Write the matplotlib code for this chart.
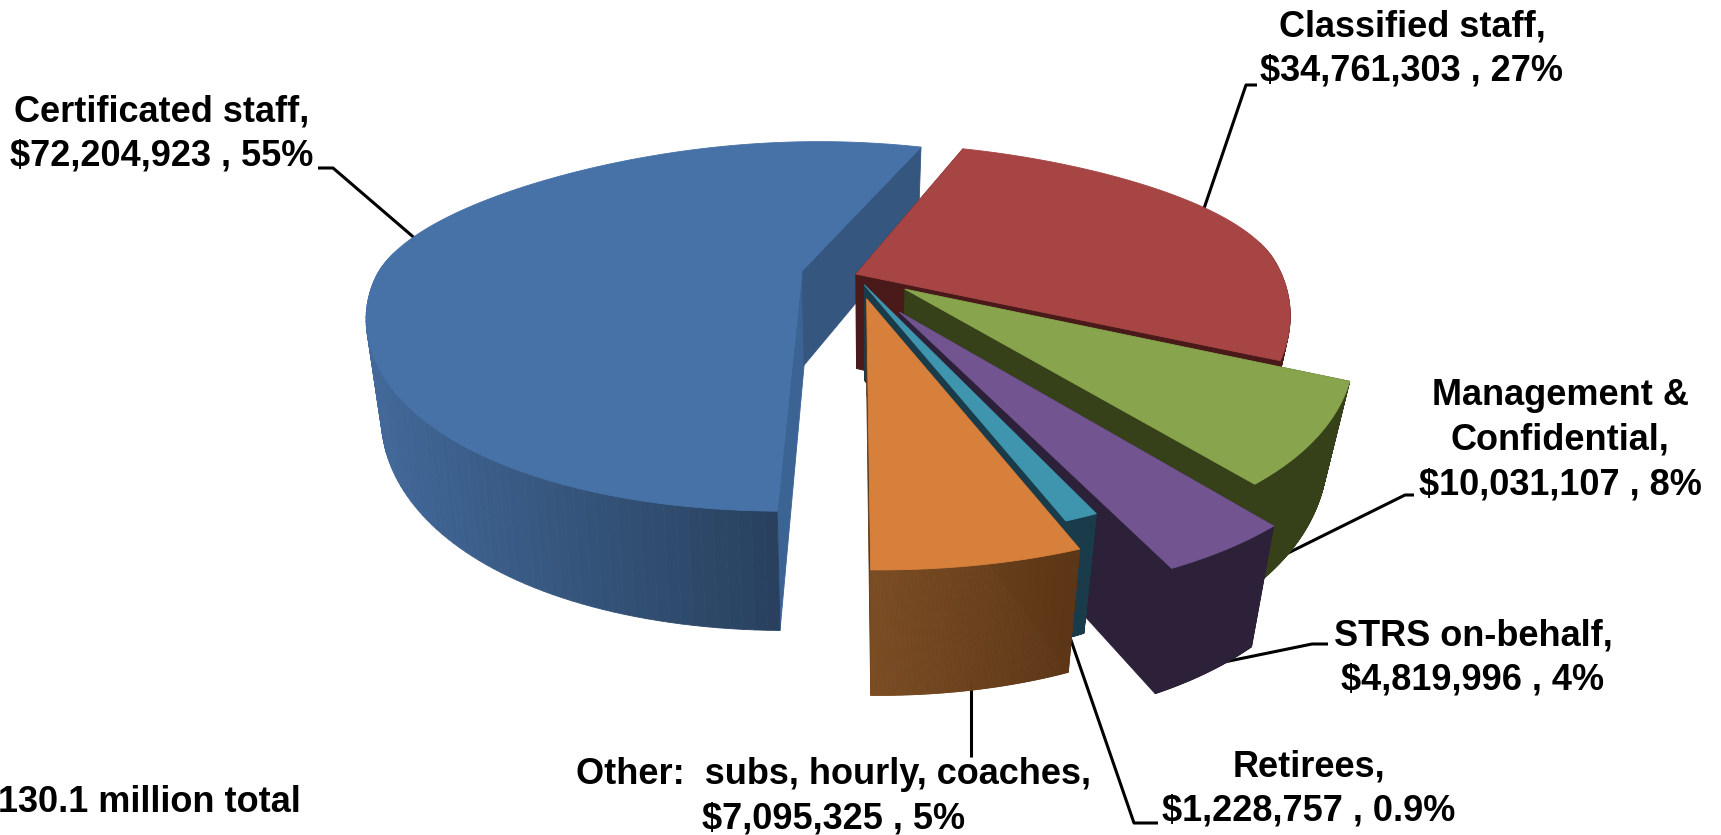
import numpy as np
import matplotlib
matplotlib.use('Agg')
import matplotlib.pyplot as plt
from matplotlib.colors import to_rgb

plt.rcParams['font.family'] = ['Liberation Sans', 'DejaVu Sans']

names = ['Certificated staff', 'Classified staff', 'Management &\nConfidential', 'STRS on-behalf',
         'Retirees', 'Other:  subs, hourly, coaches']
values = [72204923, 34761303, 10031107, 4819996, 1228757, 7095325]
percents = ['55%', '27%', '8%', '4%', '0.9%', '5%']
total_note = '130.1 million total'

top_colors = ['#4672A8', '#A64543', '#88A44D', '#725490', '#4095AE', '#D7803C']
side_left = ['#42699A', '#4A1A1A', '#374119', '#2C2138', '#1A3C4A', '#7A4C22']
side_right = ['#29415F', '#4A1A1A', '#374119', '#2C2138', '#1A3C4A', '#5C3616']
face_start = ['#3B6394', '#4A1A1A', '#374119', '#2C2138', '#1A3C4A', '#5C3616']
face_end = ['#34567F', '#4A1A1A', '#374119', '#2C2138', '#1A3C4A', '#5C3616']

# offset of each wedge on the pie plane (exploded slices)
explode = [(0, 0), (0.128, -0.024), (0.240, -0.115), (0.221, -0.237), (0.146, -0.087), (0.149, -0.164)]
start_angle = 182.4

OX, OY = 802, 271
RX_LEFT, RX_RIGHT, RY = 427, 420, 168
KY = 0.30
TILT = 0.018


def project(u, v):
    # perspective of the pie plane, front is closer than back
    u, v = np.asarray(u, dtype=float), np.asarray(v, dtype=float)
    wx = 1 + 0.18 * v + np.where(v > 0, 0.19, -0.1) * v ** 2
    x = OX + np.where(u < 0, RX_LEFT, RX_RIGHT) * u / wx
    y = OY - RY * v / (1 + KY * v) - TILT * (x - OX)
    return x, y


def drop(x, y):
    # bottom rim of the pie, same point one thickness lower
    x = np.asarray(x, dtype=float)
    shrink = np.where(x > 872, 0.055, 0.03)
    return x - (x - 872) * shrink, y + 94 + (y - 270) * 0.105


def mix(c1, c2, t):
    c1, c2 = np.array(to_rgb(c1)), np.array(to_rgb(c2))
    return tuple(c1 + (c2 - c1) * t)


def fill(ax, xs, ys, color):
    ax.fill(xs, ys, color=color, lw=0.6, ec=color, joinstyle='round')


def draw_wedge(ax, i, t1, t2):
    du, dv = explode[i]
    th = np.radians(np.linspace(t1, t2, 160))
    x, y = project(du + np.sin(th), dv + np.cos(th))
    ax0, ay0 = project(du, dv)
    bx, by = drop(x, y)
    bx0, by0 = drop(ax0, ay0)

    fill(ax, [ax0, x[0], bx[0], bx0], [ay0, y[0], by[0], by0], face_start[i])
    fill(ax, [ax0, x[-1], bx[-1], bx0], [ay0, y[-1], by[-1], by0], face_end[i])

    # outer rim, split in strips for the shading, back part is never seen
    xmin, xmax = x.min(), x[np.argmax(y)] if i == 0 else x.max()
    if xmax <= xmin:
        xmax = xmin + 1
    for j in range(len(th) - 1):
        if np.cos(th[j]) > 0.15:
            continue
        t = np.clip((x[j] - xmin) / (xmax - xmin), 0, 1)
        fill(ax, [x[j], x[j + 1], bx[j + 1], bx[j]], [y[j], y[j + 1], by[j + 1], by[j]],
             mix(side_left[i], side_right[i], t))

    fill(ax, np.r_[ax0, x], np.r_[ay0, y], top_colors[i])


fig = plt.figure(figsize=(17.21, 8.35), dpi=100)
ax = fig.add_axes([0, 0, 1, 1])
ax.set_xlim(0, 1721)
ax.set_ylim(835, 0)
ax.axis('off')

spans = np.array(values) / sum(values) * 360
angle = start_angle
wedges = []
for i in range(len(values)):
    wedges.append((i, angle, angle + spans[i]))
    angle += spans[i]

# leader lines sit under the pie
leaders = [
    [(432, 253), (333, 168), (318, 168)],
    [(1197, 229), (1246, 85), (1257, 85)],
    [(1276, 559), (1405, 495), (1414, 495)],
    [(1190, 669), (1312, 644), (1328, 644)],
    [(1064, 620), (1134, 823), (1158, 823)],
    [(971, 680), (971, 757)],
]
for pts in leaders:
    ax.plot(*zip(*pts), color='black', lw=2.2, solid_capstyle='butt', zorder=1)

for i, t1, t2 in wedges:
    draw_wedge(ax, i, t1, t2)

label_pos = [(162, 134), (1412, 49), (1560, 440), (1473, 658), (1309, 789), (834, 797)]
for i, name in enumerate(names):
    ax.text(label_pos[i][0], label_pos[i][1], f'{name},\n${values[i]:,} , {percents[i]}',
            ha='center', va='center', fontsize=26, fontweight='bold', linespacing=1.36, color='black')
ax.text(301, 802, total_note, ha='right', va='center', fontsize=26, fontweight='bold', color='black')

fig.savefig('out.png', dpi=100)
